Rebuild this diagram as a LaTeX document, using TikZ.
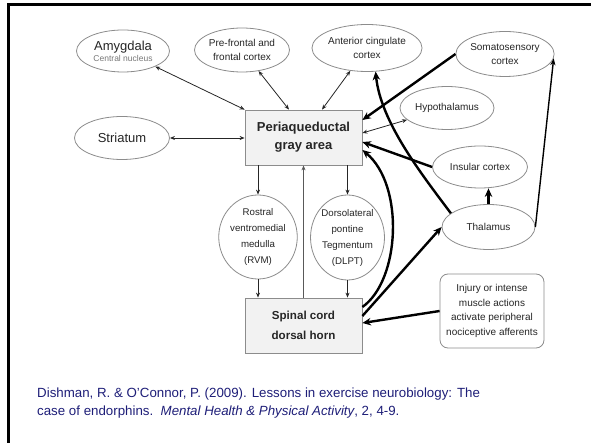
\documentclass[tikz,border=0pt]{standalone}
\usepackage{fontspec}
\setmainfont{Liberation Sans}
\usetikzlibrary{arrows.meta,shapes.geometric,calc}
\definecolor{edgegray}{RGB}{140,140,140}
\definecolor{boxfill}{RGB}{242,242,242}
\definecolor{txt}{RGB}{38,38,38}
\definecolor{subtxt}{RGB}{120,120,120}
\definecolor{citecol}{RGB}{30,30,120}
\begin{document}
\begin{tikzpicture}[x=1pt,y=-1pt,
  region/.style={ellipse,draw=edgegray,line width=0.8pt,fill=white,inner sep=0pt,text=txt,align=center},
  boxnode/.style={rectangle,draw=edgegray,line width=0.8pt,fill=boxfill,inner sep=0pt,text=txt,align=center,minimum width=117pt,minimum height=55pt},
  small/.style={font=\fontsize{10}{14}\selectfont},
  thinln/.style={line width=0.8pt,draw=black!85},
  medln/.style={line width=1.4pt},
  thickln/.style={line width=2.4pt},
  sarr/.style={-{Stealth[length=5pt,width=4pt]}},
  darr/.style={{Stealth[length=5pt,width=4pt]}-{Stealth[length=5pt,width=4pt]}},
  marr/.style={-{Stealth[length=7pt,width=5pt]}},
  barr/.style={-{Stealth[length=8.5pt,width=7.5pt]}},
]
\useasboundingbox (0,0) rectangle (591,443);
\begin{scope}
\clip (0,0) rectangle (591,443);
\draw[line width=3pt] (8.5,4.5) rectangle (620,470);
\end{scope}

% nodes
\node[region,minimum width=93pt,minimum height=42pt] (amy) at (123,51)
  {{\fontsize{13}{14}\selectfont Amygdala}\\[-1pt]{\fontsize{8.5}{10}\selectfont\color{subtxt}Central nucleus}};
\node[region,small,minimum width=95pt,minimum height=44pt] (pf) at (242,50) {Pre-frontal and\\frontal cortex};
\node[region,small,minimum width=95pt,minimum height=47pt] (acc) at (367,48) {Anterior cingulate\\cortex};
\node[region,small,minimum width=95pt,minimum height=45pt] (soma) at (505,54) {Somatosensory\\cortex};
\node[region,font=\fontsize{13}{15}\selectfont,minimum width=95pt,minimum height=43pt] (str) at (122,138) {Striatum};
\node[region,small,minimum width=94pt,minimum height=43pt] (hyp) at (447,108) {Hypothalamus};
\node[region,small,minimum width=95pt,minimum height=42pt] (ins) at (480,167) {Insular cortex};
\node[boxnode,font=\fontsize{13}{18}\selectfont\bfseries] (pag) at (303.5,137.5) {Periaqueductal\\gray area};
\node[region,font=\fontsize{9.7}{16}\selectfont,minimum width=73pt,minimum height=84pt] (rvm) at (258,237)
  {Rostral\\ventromedial\\medulla\\(RVM)};
\node[region,font=\fontsize{9.7}{16}\selectfont,minimum width=73pt,minimum height=85pt] (dlpt) at (347.5,237.5)
  {Dorsolateral\\pontine\\Tegmentum\\(DLPT)};
\node[boxnode,font=\fontsize{11.6}{20}\selectfont\bfseries] (sc) at (303.5,325.5) {Spinal cord\\dorsal horn};
\node[region,small,minimum width=93pt,minimum height=45pt] (thal) at (488.5,227) {Thalamus};
\node[rectangle,rounded corners=8pt,draw=edgegray,line width=0.8pt,fill=white,text=txt,align=center,
  font=\fontsize{10}{14.5}\selectfont,inner sep=0pt,minimum width=104pt,minimum height=74pt] (inj) at (492,311)
  {Injury or intense\\muscle actions\\activate peripheral\\nociceptive afferents};

\node[anchor=north west,align=left,text=citecol,font=\fontsize{13.3}{18}\selectfont,inner sep=0pt] (cite) at (37,388)
  {Dishman, R. \& O'Connor, P. (2009). Lessons in exercise neurobiology: The\\
   case of endorphins.\ \ \textit{Mental Health \& Physical Activity}, 2, 4-9.};

% thin two-way connectors
\draw[thinln,darr] (amy) -- (pag.north west);
\draw[thinln,darr] (pf) -- ([xshift=-14.5pt]pag.north);
\draw[thinln,darr] (acc) -- ([xshift=18.5pt]pag.north);
\draw[thinln,darr] (str) -- (str -| pag.west);
\draw[thinln,darr] (hyp) -- ([yshift=4.5pt]pag.east);

% vertical connectors
\draw[thinln,sarr] (pag.south -| rvm) -- (rvm.north);
\draw[thinln,sarr] (rvm.south) -- (rvm.south |- sc.north);
\draw[thinln,sarr] (pag.south -| dlpt) -- (dlpt.north);
\draw[thinln,sarr] (dlpt.south) -- (dlpt.south |- sc.north);
\draw[thinln,sarr,draw=black!65] (sc.north) -- (pag.south);

% thick connectors
\draw[thickln,barr] (soma.west) -- ([yshift=17.5pt]pag.east);
\draw[thickln,barr] (ins.west) -- ([yshift=-4.5pt]pag.east);
\draw[thickln,barr] ([yshift=18.5pt]sc.east) .. controls +(38,-27) and +(42,35) .. ([yshift=-12.5pt]pag.east);
\draw[thickln,barr] (thal.160) .. controls +(-30,-40) and +(5,50) .. (acc.-70);
\draw[thickln,barr] ([yshift=9.5pt]sc.east) -- (thal.west);
\draw[thickln,barr] (inj.west) -- ([yshift=2.5pt]sc.east);
\draw[thickln,barr] (thal.north) -- (thal.north |- ins.south);
\draw[medln,marr] (thal.east) -- (soma.-5);
\end{tikzpicture}
\end{document}
